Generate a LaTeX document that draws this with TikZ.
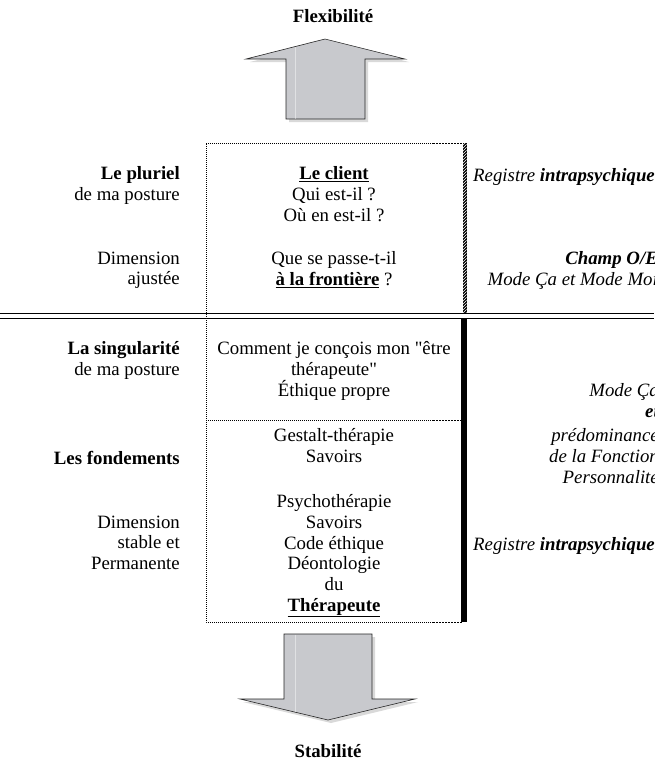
\documentclass[tikz,border=0pt]{standalone}
\usepackage{fontspec}
\setmainfont{Liberation Serif}[Ligatures=TeXOff]
\usetikzlibrary{patterns}

\definecolor{arrowgray}{RGB}{200,201,205}

\tikzset{
  txt/.style={inner sep=0pt, font=\fontsize{18.8}{20.7}\selectfont, execute at begin node=\strut},
  lcol/.style={txt, anchor=north east, align=right},
  mcol/.style={txt, anchor=north, align=center},
  rcol/.style={txt, anchor=north east, align=right, font=\fontsize{18.8}{20.7}\selectfont\itshape},
  title/.style={txt, anchor=north, font=\fontsize{18.8}{20.7}\selectfont\bfseries},
  bigarrow/.style={fill=arrowgray, draw=black!85, line width=0.6pt},
  arrowshadow/.style={fill=black, opacity=.15},
  arrowlight/.style={white, opacity=.45, line width=0.8pt},
  boxline/.style={line width=0.7pt, dash pattern=on 0.7pt off 1.3pt},
  boxend/.style={line width=0.7pt, dash pattern=on 2pt off 1pt},
}

\begin{document}
\begin{tikzpicture}[x=1pt,y=-1pt]
  \useasboundingbox (0,0) rectangle (654,761);
  % fleches
  \fill[arrowshadow] (328,42) -- (409,62) -- (368,62) -- (368,122) -- (289,122) -- (289,62) -- (250,62) -- cycle;
  \draw[bigarrow] (325,39) -- (405,59) -- (365,59) -- (365,119) -- (286,119) -- (286,59) -- (246,59) -- cycle;
  \draw[arrowlight] (295,47) -- (295,118.5);
  \fill[arrowshadow] (287,637) -- (375,637) -- (375,702) -- (418,702) -- (331,723) -- (243,702) -- (287,702) -- cycle;
  \draw[bigarrow] (284,634) -- (372,634) -- (372,699) -- (415,699) -- (328,720) -- (240,699) -- (284,699) -- cycle;
  \draw[arrowlight] (295,634.5) -- (295,712);
  \node[title] (flex) at (333,7.5) {Flexibilité};
  \node[title] (stab) at (328,742.5) {Stabilité};
  % cadre
  \draw[boxline] (433,143) -- (206,143) -- (206,622) -- (433,622);
  \draw[boxline] (206,420) -- (433,420);
  \draw[boxend] (433,143) -- (463,143);
  \draw[boxend] (433,622) -- (463,622);
  \draw[boxend] (433,420) -- (461,420);
  \fill[black] (462.5,143) rectangle (466.5,313);
  \fill[pattern=north east lines, pattern color=white] (462.5,143) rectangle (466.5,313);
  \fill[black] (461,318) rectangle (467,622);
  \draw[line width=1.2pt] (0,313.5) -- (654,313.5);
  \draw[line width=1.2pt] (0,318.5) -- (654,318.5);
  % colonne gauche
  \node[lcol] (pluriel) at (180,166.5) {\textbf{Le pluriel}\\de ma posture};
  \node[lcol] (ajust) at (180,251.5) {Dimension\\ajustée};
  \node[lcol] (singul) at (180,341.5) {\textbf{La singularité}\\de ma posture};
  \node[lcol] (fond) at (180,449.5) {\textbf{Les fondements}};
  \node[lcol] (stable) at (180,515.5) {Dimension\\stable et\\Permanente};
  % colonne centrale
  \node[mcol] (client) at (334,166.5) {\textbf{\underline{Le client}}\\Qui est-il ?\\Où en est-il ?};
  \node[mcol] (frontiere) at (334,251.5) {Que se passe-t-il\\\textbf{\underline{à la frontière}} ?};
  \node[mcol] (concois) at (334,341.5) {Comment je conçois mon "être\\thérapeute"\\Éthique propre};
  \node[mcol] (gestalt) at (334,428.5) {Gestalt-thérapie\\Savoirs};
  \node[mcol] (psycho) at (334,494.5) {Psychothérapie\\Savoirs\\Code éthique\\Déontologie\\du\\\textbf{\underline{Thérapeute}}};
  % colonne droite
  \node[rcol] (registre) at (655,166.5) {Registre \textbf{intrapsychique}};
  \node[rcol] (champ) at (658,251.5) {\textbf{Champ O/E}\\Mode Ça et Mode Moi};
  \node[rcol] (mode) at (659,383.5) {Mode Ça\\\textbf{et}\\[3.6pt]prédominance\\de la Fonction\\Personnalité};
  \node[rcol] (registrebas) at (655,536.2) {Registre \textbf{intrapsychique}};
\end{tikzpicture}
\end{document}
